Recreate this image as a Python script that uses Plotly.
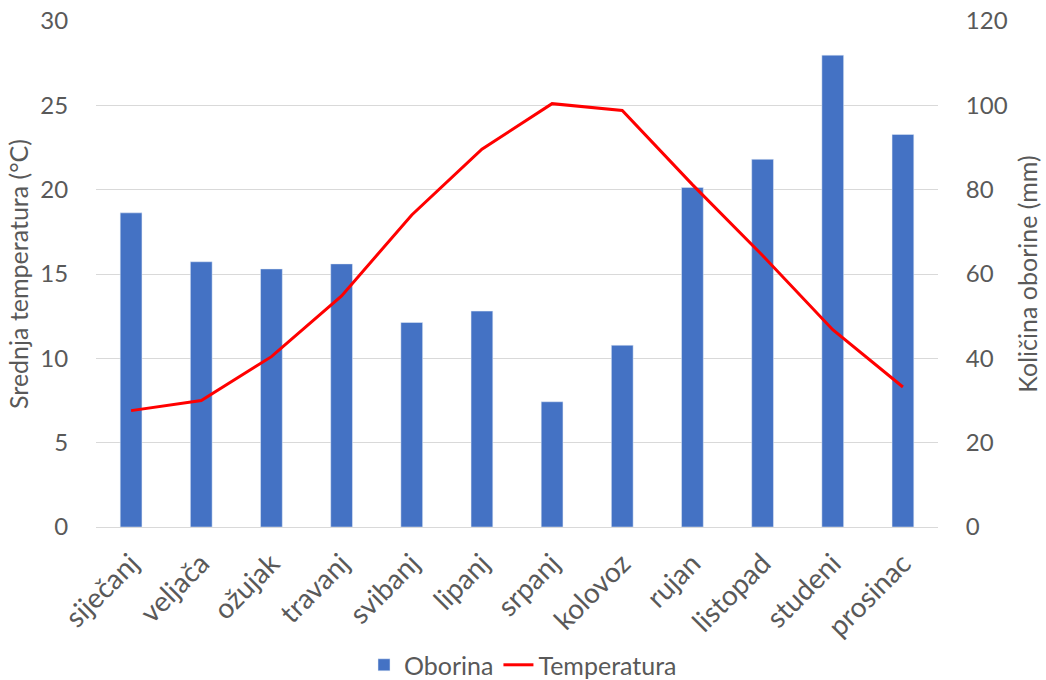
import plotly.graph_objects as go

months = ["siječanj", "veljača", "ožujak", "travanj", "svibanj", "lipanj",
          "srpanj", "kolovoz", "rujan", "listopad", "studeni", "prosinac"]
oborina = [74.5, 62.9, 61.2, 62.4, 48.5, 51.2, 29.7, 43.1, 80.5, 87.2, 111.9, 93.1]
temperatura = [6.9, 7.5, 10.1, 13.7, 18.5, 22.4, 25.1, 24.7, 20.3, 16.1, 11.7, 8.3]

FONT = "Lato, sans-serif"
GRAY = "#595959"

fig = go.Figure()
fig.add_trace(go.Bar(x=months, y=oborina, name="Oborina", marker_color="#4472C4",
                     yaxis="y"))
fig.add_trace(go.Scatter(x=months, y=temperatura, name="Temperatura", mode="lines",
                         line=dict(color="#FF0000", width=3), yaxis="y2"))

fig.update_layout(
    width=1046, height=680,
    margin=dict(l=96, r=108, t=21, b=153, autoexpand=False),
    paper_bgcolor="white", plot_bgcolor="white",
    font=dict(family=FONT, color=GRAY, size=24),
    bargap=0.69,
    showlegend=True,
    legend=dict(orientation="h", xref="container", yref="container",
                x=0.5, xanchor="center", y=0.022, yanchor="middle",
                font=dict(size=25, color=GRAY), itemwidth=30, tracegroupgap=0),
    xaxis=dict(tickangle=-45, tickfont=dict(size=28, color=GRAY), showgrid=False,
               showline=True, linecolor="#d9d9d9", linewidth=1,
               ticks="outside", ticklen=8, tickcolor="rgba(0,0,0,0)",
               automargin=False),
    yaxis=dict(side="right", range=[0, 120], dtick=20, showgrid=True,
               gridcolor="#d9d9d9", gridwidth=1, zeroline=False,
               tickfont=dict(size=24, color=GRAY), automargin=False,
               ticks="outside", ticklen=22, tickcolor="rgba(0,0,0,0)",
               title=dict(text="Količina oborine (mm)", font=dict(size=25, color=GRAY),
                          standoff=12)),
    yaxis2=dict(side="left", overlaying="y", range=[0, 30], dtick=5, showgrid=False,
                zeroline=False, tickfont=dict(size=24, color=GRAY), automargin=False,
                ticks="outside", ticklen=22, tickcolor="rgba(0,0,0,0)",
                title=dict(text="Srednja temperatura (°C)", font=dict(size=25, color=GRAY),
                           standoff=4)),
)

fig.write_html("out.html")
